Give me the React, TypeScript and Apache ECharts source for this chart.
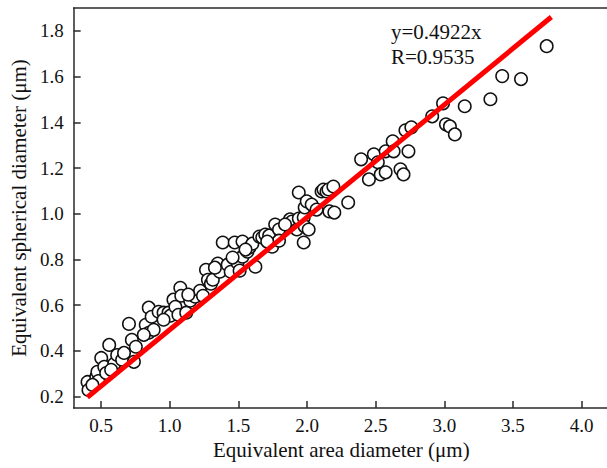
import React, { useEffect, useRef } from "react";
import * as echarts from "echarts";

// Equivalent area diameter (µm)
const xValues: number[] = [
  0.401, 0.408, 0.465, 0.473, 0.48, 0.501, 0.523, 0.537, 0.559, 0.595,
  0.617, 0.653, 0.667, 0.703, 0.724, 0.739, 0.753, 0.825, 0.847, 0.847,
  0.868, 0.883, 0.919, 0.955, 0.991, 1.005, 1.027, 1.041, 1.063, 1.077,
  1.084, 1.12, 1.149, 1.185, 1.221, 1.242, 1.264, 1.278, 1.3, 1.314,
  1.35, 1.365, 1.386, 1.422, 1.444, 1.473, 1.494, 1.509, 1.53, 1.53,
  1.566, 1.581, 1.602, 1.624, 1.653, 1.674, 1.696, 1.724, 1.746, 1.768,
  1.796, 1.796, 1.876, 1.89, 1.926, 1.94, 1.94, 1.976, 1.976, 1.983,
  1.983, 1.998, 2.012, 2.034, 2.07, 2.106, 2.12, 2.142, 2.156, 2.163,
  2.192, 2.199, 2.3, 2.394, 2.451, 2.487, 2.516, 2.537, 2.573, 2.573,
  2.624, 2.631, 2.681, 2.703, 2.717, 2.739, 2.76, 2.912, 2.991, 3.012,
  3.041, 3.077, 3.149, 3.336, 3.422, 3.559, 3.746,
  0.955, 1.135, 1.329, 1.552, 1.71, 1.84, 1.458, 0.811, 0.573, 0.437,
];
// Equivalent spherical diameter (µm)
const yValues: number[] = [
  0.264, 0.229, 0.286, 0.308, 0.268, 0.369, 0.33, 0.303, 0.426, 0.343,
  0.382, 0.361, 0.391, 0.518, 0.448, 0.352, 0.418, 0.514, 0.589, 0.479,
  0.549, 0.492, 0.571, 0.567, 0.567, 0.554, 0.624, 0.593, 0.558, 0.676,
  0.641, 0.567, 0.619, 0.637, 0.663, 0.641, 0.755, 0.711, 0.694, 0.711,
  0.782, 0.746, 0.874, 0.777, 0.746, 0.874, 0.786, 0.751, 0.878, 0.812,
  0.834, 0.852, 0.869, 0.768, 0.9, 0.896, 0.909, 0.904, 0.856, 0.953,
  0.931, 0.882, 0.975, 0.966, 0.931, 0.979, 1.093, 0.983, 0.874, 1.027,
  0.944, 1.054, 0.931, 1.04, 1.018, 1.097, 1.106, 1.097, 1.106, 1.01,
  1.119, 1.005, 1.049, 1.238, 1.15, 1.26, 1.225, 1.172, 1.273, 1.181,
  1.317, 1.273, 1.194, 1.172, 1.365, 1.273, 1.378, 1.426, 1.483, 1.391,
  1.382, 1.347, 1.47, 1.501, 1.602, 1.589, 1.733,
  0.536, 0.646, 0.764, 0.843, 0.878, 0.953, 0.808, 0.47, 0.317, 0.251,
];

const slope = 0.4922;
const fitX: number[] = [0.4, 3.78];
const xTicks: number[] = [0.5, 1.0, 1.5, 2.0, 2.5, 3.0, 3.5, 4.0];
const yTicks: number[] = [0.2, 0.4, 0.6, 0.8, 1.0, 1.2, 1.4, 1.6, 1.8];
const equationText = "y=0.4922x";
const rText = "R=0.9535";

const FONT = "'Liberation Serif', 'Times New Roman', serif";
const AXIS_COLOR = "#2a2a2a";

export default function App() {
  const ref = useRef<HTMLDivElement>(null);

  useEffect(() => {
    document.documentElement.style.overflow = "hidden";
    document.body.style.overflow = "hidden";
    if (!ref.current) return;
    const chart = echarts.init(ref.current, undefined, { renderer: "svg" });
    const points = xValues.map((x, i) => [x, yValues[i]]);
    const fitData = fitX.map((x) => [x, x * slope]);

    const axisLine = { show: true, lineStyle: { color: AXIS_COLOR, width: 1.5 } };
    const tickBase = {
      show: true,
      inside: true,
      length: 7,
      lineStyle: { color: AXIS_COLOR, width: 1.5 },
    };
    const nameTextStyle = { fontFamily: FONT, fontSize: 21, color: "#111" };

    chart.setOption({
      animation: false,
      backgroundColor: "#ffffff",
      grid: {
        left: 69,
        top: 8,
        width: 540,
        height: 400,
        show: false,
      },
      xAxis: [
        {
          type: "value",
          min: 0.3,
          max: 4.2,
          name: "Equivalent area diameter (\u03bcm)",
          nameLocation: "middle",
          nameGap: 24,
          nameTextStyle,
          axisLine,
          splitLine: { show: false },
          axisTick: { ...tickBase, customValues: xTicks },
          axisLabel: {
            customValues: xTicks,
            formatter: (v: number) => v.toFixed(1),
            fontFamily: FONT,
            fontSize: 19,
            color: "#111",
            margin: 8,
          },
        },
        {
          type: "value",
          position: "top",
          min: 0.3,
          max: 4.2,
          axisLine,
          axisTick: { show: false },
          axisLabel: { show: false },
          splitLine: { show: false },
        },
      ],
      yAxis: {
        type: "value",
        min: 0.15,
        max: 1.9,
        name: "Equivalent spherical diameter (\u03bcm)",
        nameLocation: "middle",
        nameGap: 36,
        nameTextStyle,
        axisLine,
        splitLine: { show: false },
        axisTick: { ...tickBase, customValues: yTicks },
        axisLabel: {
          customValues: yTicks,
          formatter: (v: number) => v.toFixed(1),
          fontFamily: FONT,
          fontSize: 19,
          color: "#111",
          margin: 10,
        },
      },
      series: [
        {
          type: "scatter",
          data: points,
          symbol: "circle",
          symbolSize: 12.5,
          itemStyle: { color: "#ffffff", borderColor: "#111111", borderWidth: 1.5, opacity: 1 },
          z: 2,
        },
        {
          type: "line",
          data: fitData,
          symbol: "none",
          lineStyle: { color: "#ff0000", width: 5 },
          z: 3,
        },
      ],
      graphic: [
        {
          type: "text",
          left: 391,
          top: 21,
          style: { text: equationText, fontFamily: FONT, fontSize: 21, fill: "#111" },
        },
        {
          type: "text",
          left: 391,
          top: 46,
          style: { text: rText, fontFamily: FONT, fontSize: 21, fill: "#111" },
        },
      ],
    });
    return () => chart.dispose();
  }, []);

  return (
    <div
      ref={ref}
      style={{ position: "fixed", left: 0, top: 0, width: 620, height: 468, background: "#fff" }}
    />
  );
}
